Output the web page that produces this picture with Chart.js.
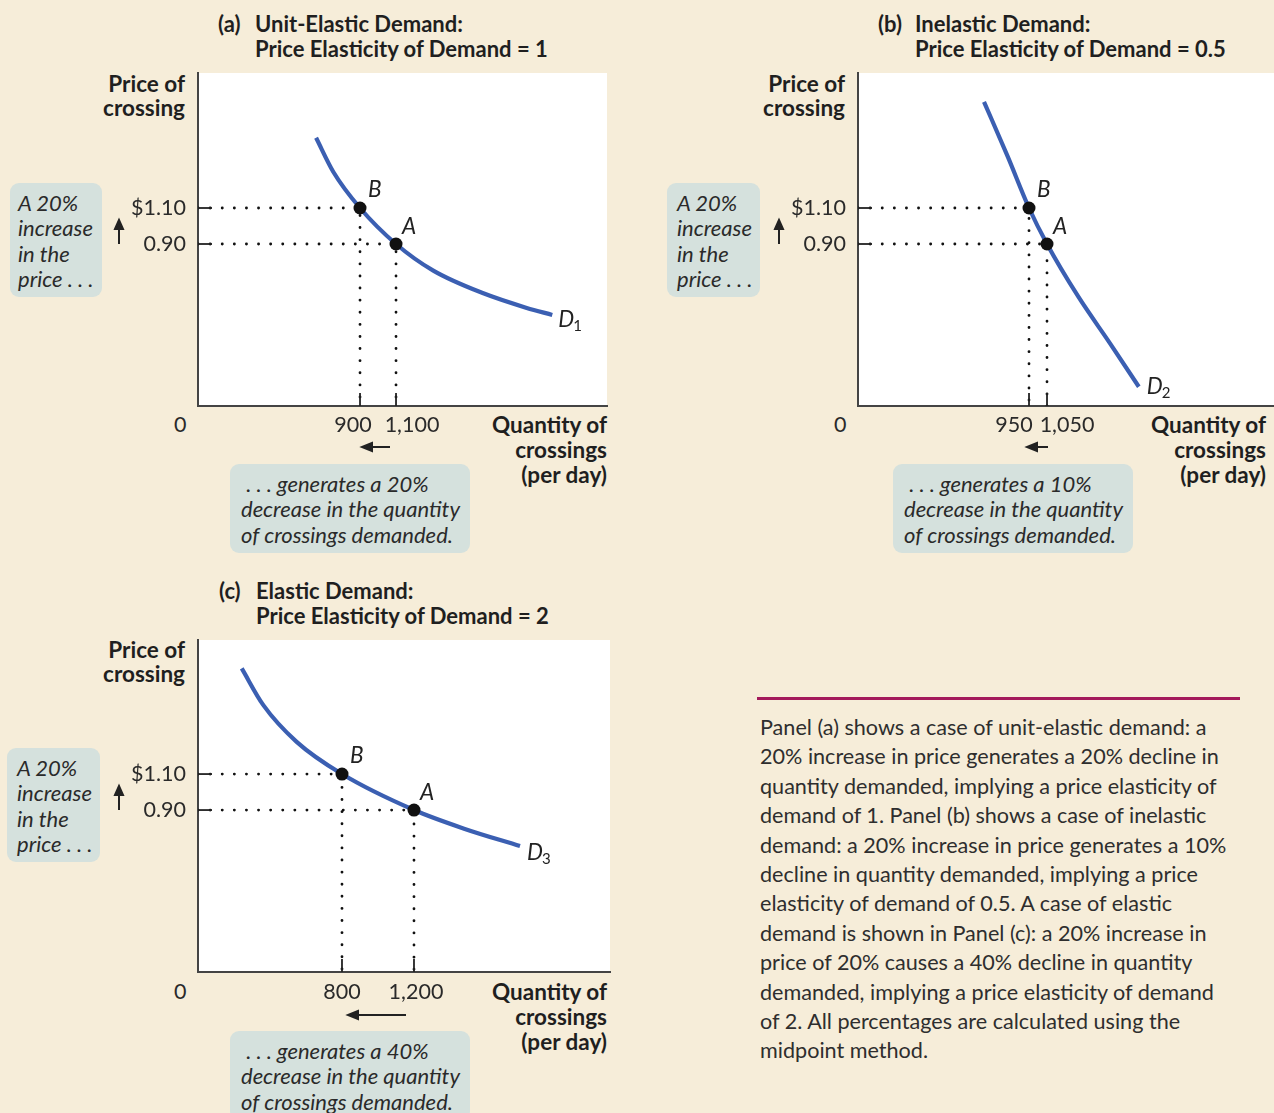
<!DOCTYPE html>
<html>
<head>
<meta charset="utf-8">
<script src="https://cdn.jsdelivr.net/npm/chart.js@4.4.1/dist/chart.umd.min.js"></script>
<style>
  body { margin: 0; background: #f6edd9; width: 1274px; height: 1113px; position: relative; overflow: hidden;
         font-family: "Lato", "Open Sans", sans-serif; color: #262626; }
  canvas { position: absolute; }
  .t { position: absolute; white-space: nowrap; font-size: 22px; line-height: 25px; }
  .b { font-weight: bold; color: #1f1f1f; }
  .r { text-align: right; }
  .n { font-size: 21.5px; color: #2a2a2a; }
  .box { position: absolute; background: #d5e1dd; border-radius: 9px; }
  .box div { position: absolute; white-space: nowrap; font-style: italic; font-size: 22px; line-height: 25.4px; color: #2a2a2a; }
  #note { position: absolute; left: 760px; top: 713px; font-size: 21.6px; line-height: 29.4px; color: #2e2e2e; white-space: nowrap; }
  #rule { position: absolute; left: 757px; top: 697px; width: 483px; height: 3px; background: #a3195b; }
</style>
</head>
<body>

<!-- titulos -->
<div class="t b" style="left:218px;top:11px">(a)</div>
<div class="t b" style="left:255px;top:11px">Unit-Elastic Demand:<br>Price Elasticity of Demand = 1</div>
<div class="t b" style="left:878px;top:11px">(b)</div>
<div class="t b" style="left:915px;top:11px">Inelastic Demand:<br>Price Elasticity of Demand = 0.5</div>
<div class="t b" style="left:219px;top:578px">(c)</div>
<div class="t b" style="left:256px;top:578px">Elastic Demand:<br>Price Elasticity of Demand = 2</div>

<!-- titulos de ejes -->
<div class="t b r" style="right:1089px;top:72px;line-height:24px;font-size:22.5px">Price of<br>crossing</div>
<div class="t b r" style="right:429px;top:72px;line-height:24px;font-size:22.5px">Price of<br>crossing</div>
<div class="t b r" style="right:1089px;top:638px;line-height:24px;font-size:22.5px">Price of<br>crossing</div>
<div class="t b r" style="right:667px;top:412px;font-size:22.5px">Quantity of<br>crossings<br>(per day)</div>
<div class="t b r" style="right:8px;top:412px;font-size:22.5px">Quantity of<br>crossings<br>(per day)</div>
<div class="t b r" style="right:667px;top:979px;font-size:22.5px">Quantity of<br>crossings<br>(per day)</div>

<div class="t n" style="left:174px;top:412px">0</div>
<div class="t n" style="left:834px;top:412px">0</div>
<div class="t n" style="left:174px;top:979px">0</div>

<!-- cajas de anotacion -->
<div class="box" style="left:10px;top:183px;width:92px;height:114px">
  <div style="left:8px;top:7px">A 20%<br>increase<br>in the<br>price . . .</div>
</div>
<div class="box" style="left:667px;top:183px;width:93px;height:114px">
  <div style="left:10px;top:7px">A 20%<br>increase<br>in the<br>price . . .</div>
</div>
<div class="box" style="left:7px;top:748px;width:93px;height:114px">
  <div style="left:10px;top:7px">A 20%<br>increase<br>in the<br>price . . .</div>
</div>
<div class="box" style="left:230px;top:464px;width:240px;height:89px">
  <div style="left:11px;top:7px">&nbsp;. . . generates a 20%<br>decrease in the quantity<br>of crossings demanded.</div>
</div>
<div class="box" style="left:893px;top:464px;width:240px;height:89px">
  <div style="left:11px;top:7px">&nbsp;. . . generates a 10%<br>decrease in the quantity<br>of crossings demanded.</div>
</div>
<div class="box" style="left:230px;top:1031px;width:240px;height:89px">
  <div style="left:11px;top:7px">&nbsp;. . . generates a 40%<br>decrease in the quantity<br>of crossings demanded.</div>
</div>

<!-- flechas -->
<svg style="position:absolute;left:0;top:0" width="1274" height="1113">
  <g stroke="#222" stroke-width="2" fill="#222">
    <line x1="119" y1="244" x2="119" y2="226"/><path d="M115 229 L119 220 L123 229 Z"/>
    <line x1="779" y1="244" x2="779" y2="226"/><path d="M775 229 L779 220 L783 229 Z"/>
    <line x1="119" y1="810" x2="119" y2="792"/><path d="M115 795 L119 786 L123 795 Z"/>
    <line x1="390" y1="447" x2="370" y2="447"/><path d="M372 443 L362 447 L372 451 Z"/>
    <line x1="1048" y1="447" x2="1035" y2="447"/><path d="M1037 443 L1027 447 L1037 451 Z"/>
    <line x1="406" y1="1015" x2="356" y2="1015"/><path d="M358 1011 L348 1015 L358 1019 Z"/>
  </g>
</svg>

<canvas id="chartA" width="520" height="380" style="left:100px;top:60px"></canvas>
<canvas id="chartB" width="514" height="380" style="left:760px;top:60px"></canvas>
<canvas id="chartC" width="520" height="379" style="left:100px;top:627px"></canvas>

<div id="rule"></div>
<div id="note">Panel (a) shows a case of unit-elastic demand: a<br>20% increase in price generates a 20% decline in<br>quantity demanded, implying a price elasticity of<br>demand of 1. Panel (b) shows a case of inelastic<br>demand: a 20% increase in price generates a 10%<br>decline in quantity demanded, implying a price<br>elasticity of demand of 0.5. A case of elastic<br>demand is shown in Panel (c): a 20% increase in<br>price of 20% causes a 40% decline in quantity<br>demanded, implying a price elasticity of demand<br>of 2. All percentages are calculated using the<br>midpoint method.</div>

<script>
// Datos
const priceTicks = [0.90, 1.10];
const priceA = 0.90;
const priceB = 1.10;

// Curva D1 (elasticidad unitaria)
const qtyD1 = [656, 752, 900, 1100, 1307, 1585, 1826, 1968];
const priceD1 = [1.49, 1.30, 1.10, 0.90, 0.752, 0.626, 0.545, 0.506];
// Curva D2 (inelastica)
const qtyD2 = [700, 832, 950, 1050, 1224, 1400, 1560];
const priceD2 = [1.69, 1.385, 1.10, 0.90, 0.607, 0.348, 0.107];
// Curva D3 (elastica)
const qtyD3 = [243, 363, 548, 800, 1200, 1474, 1789];
const priceD3 = [1.687, 1.483, 1.279, 1.10, 0.90, 0.798, 0.70];

// Cantidades en los puntos A y B de cada panel
const qtyA = [1100, 1050, 1200];
const qtyB = [900, 950, 800];
const qtyMax = [2272, 2311, 2289];
const priceMax = [1.85, 1.85, 1.845];

const curveBlue = "#3b5fb2";
const ink = "#222";

// Fondo blanco, marcas en los ejes y etiquetas A, B, D
const panelDecor = {
  id: "panelDecor",
  beforeDraw(chart) {
    const { ctx, chartArea: a } = chart;
    ctx.save();
    ctx.fillStyle = "#fff";
    ctx.fillRect(a.left, a.top, a.right - a.left, a.bottom - a.top);
    ctx.restore();
  },
  afterDraw(chart, args, o) {
    const { ctx, chartArea: a } = chart;
    const xs = chart.scales.x, ys = chart.scales.y;
    ctx.save();
    ctx.strokeStyle = ink;
    ctx.lineWidth = 1.8;
    [o.pA, o.pB].forEach((p) => {
      const y = ys.getPixelForValue(p);
      ctx.beginPath(); ctx.moveTo(a.left, y); ctx.lineTo(a.left + 14, y); ctx.stroke();
    });
    [o.qA, o.qB].forEach((q) => {
      const x = xs.getPixelForValue(q);
      ctx.beginPath(); ctx.moveTo(x, a.bottom); ctx.lineTo(x, a.bottom - 13); ctx.stroke();
    });
    // etiquetas del eje x, desplazadas como en el original
    ctx.fillStyle = "#2a2a2a";
    ctx.font = "21.5px Lato";
    ctx.textAlign = "center";
    ctx.textBaseline = "middle";
    [o.qB, o.qA].forEach((q, k) => {
      ctx.fillText(q.toLocaleString("en-US"), xs.getPixelForValue(q) + o.shift[k], a.bottom + o.labelDy);
    });
    ctx.textAlign = "left";
    ctx.fillStyle = ink;
    ctx.font = "italic 22.5px Lato";
    ctx.fillText("B", xs.getPixelForValue(o.qB) + 8, ys.getPixelForValue(o.pB) - 18);
    ctx.fillText("A", xs.getPixelForValue(o.qA) + 6, ys.getPixelForValue(o.pA) - 17);
    const ex = xs.getPixelForValue(o.endQ), ey = ys.getPixelForValue(o.endP);
    ctx.fillText("D", ex + o.dx, ey + o.dy);
    ctx.font = "15px Lato";
    ctx.fillText(o.sub, ex + o.dx + 15, ey + o.dy + 6);
    ctx.restore();
  },
};

function makePanel(id, i, qty, price, sub, dx, dy, padRight, shift, labelDy) {
  const curve = qty.map((q, k) => ({ x: q, y: price[k] }));
  const guideB = [{ x: 0, y: priceB }, { x: qtyB[i], y: priceB }, { x: qtyB[i], y: 0 }];
  const guideA = [{ x: 0, y: priceA }, { x: qtyA[i], y: priceA }, { x: qtyA[i], y: 0 }];
  const guideStyle = {
    showLine: true, borderColor: "#111", borderWidth: 2.8, borderDash: [0.1, 12],
    borderCapStyle: "round", pointRadius: 0, order: 3,
  };
  return new Chart(document.getElementById(id), {
    type: "scatter",
    data: {
      datasets: [
        { data: [{ x: qtyB[i], y: priceB }, { x: qtyA[i], y: priceA }], pointRadius: 6.5,
          backgroundColor: "#111", borderColor: "#111", pointBorderWidth: 0, order: 0 },
        { data: curve, showLine: true, borderColor: curveBlue, borderWidth: 4.2,
          cubicInterpolationMode: "monotone", pointRadius: 0, order: 1 },
        Object.assign({ data: guideB }, guideStyle),
        Object.assign({ data: guideA }, guideStyle),
      ],
    },
    options: {
      responsive: false,
      animation: false,
      events: [],
      layout: { autoPadding: false, padding: { top: 13, right: padRight, left: 0, bottom: 0 } },
      plugins: {
        legend: { display: false },
        tooltip: { enabled: false },
        panelDecor: { pA: priceA, pB: priceB, qA: qtyA[i], qB: qtyB[i],
          endQ: qty[qty.length - 1], endP: price[price.length - 1], sub: sub, dx: dx, dy: dy,
          shift: shift, labelDy: labelDy },
      },
      scales: {
        x: {
          type: "linear", min: 0, max: qtyMax[i],
          grid: { display: false, drawTicks: false },
          border: { display: true, color: "#444", width: 2 },
          afterBuildTicks: (s) => { s.ticks = [qtyB[i], qtyA[i]].map((v) => ({ value: v })); },
          afterFit: (s) => { s.height = 34; s.paddingLeft = 0; s.paddingRight = 0; },
          ticks: { display: false },
        },
        y: {
          type: "linear", min: 0, max: priceMax[i],
          grid: { display: false, drawTicks: false },
          border: { display: true, color: "#444", width: 2 },
          afterBuildTicks: (s) => { s.ticks = priceTicks.map((v) => ({ value: v })); },
          afterFit: (s) => { s.width = 98; s.paddingTop = 0; s.paddingBottom = 0; },
          ticks: { autoSkip: false, padding: 12, color: "#2a2a2a",
            font: { family: "Lato", size: 21.5 },
            callback: (v) => (v > 1 ? "$" + v.toFixed(2) : v.toFixed(2)) },
        },
      },
    },
    plugins: [panelDecor],
  });
}

makePanel("chartA", 0, qtyD1, priceD1, "1", 6, 5, 13, [-7, 16], 19);
makePanel("chartB", 1, qtyD2, priceD2, "2", 8, 0, 0, [-15, 20], 19);
makePanel("chartC", 2, qtyD3, priceD3, "3", 7, 7, 10, [0, 2], 20);
</script>
</body>
</html>
